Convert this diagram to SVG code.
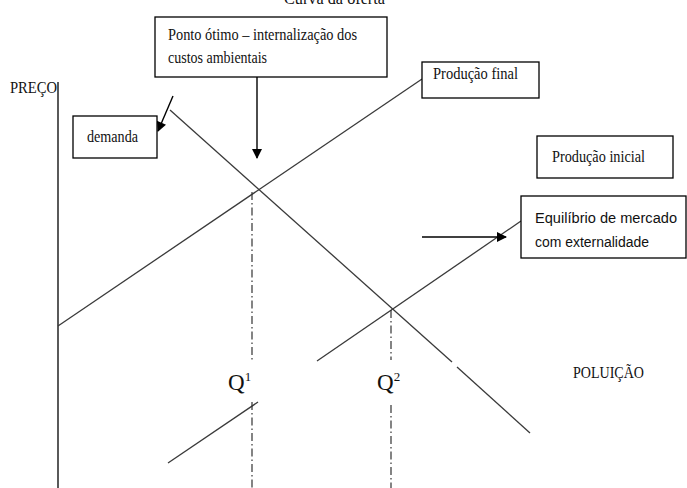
<svg xmlns="http://www.w3.org/2000/svg" width="687" height="488" viewBox="0 0 687 488">
  <style>
    .box { fill: #fff; stroke: #000; stroke-width: 1.3; }
    .serif { font-family: "Liberation Serif", "Times New Roman", serif; fill: #111; }
    .sans { font-family: "Liberation Sans", Arial, sans-serif; fill: #111; }
    .curve { stroke: #3a3a3a; stroke-width: 1.3; fill: none; }
    .axis { stroke: #000; stroke-width: 1.3; fill: none; }
    .guide { stroke: #333; stroke-width: 1.2; fill: none; stroke-dasharray: 8 3 1.5 3; }
    .arrow { stroke: #000; stroke-width: 1.4; fill: none; marker-end: url(#head); }
  </style>
  <defs>
    <marker id="head" viewBox="0 0 10 10" refX="9" refY="5" markerWidth="11" markerHeight="10" markerUnits="userSpaceOnUse" orient="auto">
      <path d="M0,0 L10,5 L0,10 z" fill="#000"/>
    </marker>
  </defs>
  <rect width="687" height="488" fill="#fff"/>

  <text class="serif" x="284" y="4" font-size="16" textLength="101" lengthAdjust="spacingAndGlyphs">Curva da oferta</text>

  <g id="axes">
    <line class="axis" x1="58" y1="82" x2="58" y2="488"/>
    <text class="serif" x="10" y="93" font-size="16" textLength="47" lengthAdjust="spacingAndGlyphs">PREÇO</text>
    <text class="serif" x="573" y="378" font-size="17" textLength="71" lengthAdjust="spacingAndGlyphs">POLUIÇÃO</text>
    <text class="serif" x="228" y="390" font-size="23">Q<tspan font-size="13" dy="-9">1</tspan></text>
    <text class="serif" x="377" y="390" font-size="23">Q<tspan font-size="13" dy="-9">2</tspan></text>
  </g>

  <g id="connectors">
    <line class="curve" x1="58" y1="326" x2="422" y2="79"/>
    <line class="curve" x1="170" y1="110" x2="452" y2="362"/>
    <line class="curve" x1="457" y1="367" x2="530" y2="433"/>
    <line class="curve" x1="317" y1="361" x2="521" y2="221"/>
    <line class="curve" x1="168" y1="463" x2="258" y2="402"/>
    <line class="guide" x1="252" y1="192" x2="252" y2="362"/>
    <line class="guide" x1="252" y1="402" x2="252" y2="488"/>
    <line class="guide" x1="391" y1="310" x2="391" y2="360"/>
    <line class="guide" x1="391" y1="405" x2="391" y2="488"/>
    <line class="arrow" x1="257" y1="77" x2="257" y2="158"/>
    <line class="arrow" x1="173" y1="96" x2="158" y2="131"/>
    <line class="arrow" x1="422" y1="237" x2="506" y2="237"/>
  </g>

  <g id="ponto-otimo">
    <rect class="box" x="155" y="17" width="232" height="60"/>
    <text class="serif" x="168" y="40" font-size="16" textLength="189" lengthAdjust="spacingAndGlyphs">Ponto ótimo – internalização dos</text>
    <text class="serif" x="168" y="63" font-size="16" textLength="99" lengthAdjust="spacingAndGlyphs">custos ambientais</text>
  </g>

  <g id="demanda">
    <rect class="box" x="73" y="116" width="84" height="42"/>
    <text class="serif" x="87" y="142" font-size="16" textLength="51" lengthAdjust="spacingAndGlyphs">demanda</text>
  </g>

  <g id="producao-final">
    <rect class="box" x="422" y="62" width="117" height="36"/>
    <text class="serif" x="433" y="79" font-size="16" textLength="85" lengthAdjust="spacingAndGlyphs">Produção final</text>
  </g>

  <g id="producao-inicial">
    <rect class="box" x="537" y="136" width="136" height="42"/>
    <text class="serif" x="552" y="162" font-size="16" textLength="93" lengthAdjust="spacingAndGlyphs">Produção inicial</text>
  </g>

  <g id="equilibrio">
    <rect class="box" x="521" y="196" width="165" height="62"/>
    <text class="sans" x="535" y="223" font-size="15.5" textLength="142" lengthAdjust="spacingAndGlyphs">Equilíbrio de mercado</text>
    <text class="sans" x="535" y="247" font-size="15.5" textLength="114" lengthAdjust="spacingAndGlyphs">com externalidade</text>
  </g>
</svg>
